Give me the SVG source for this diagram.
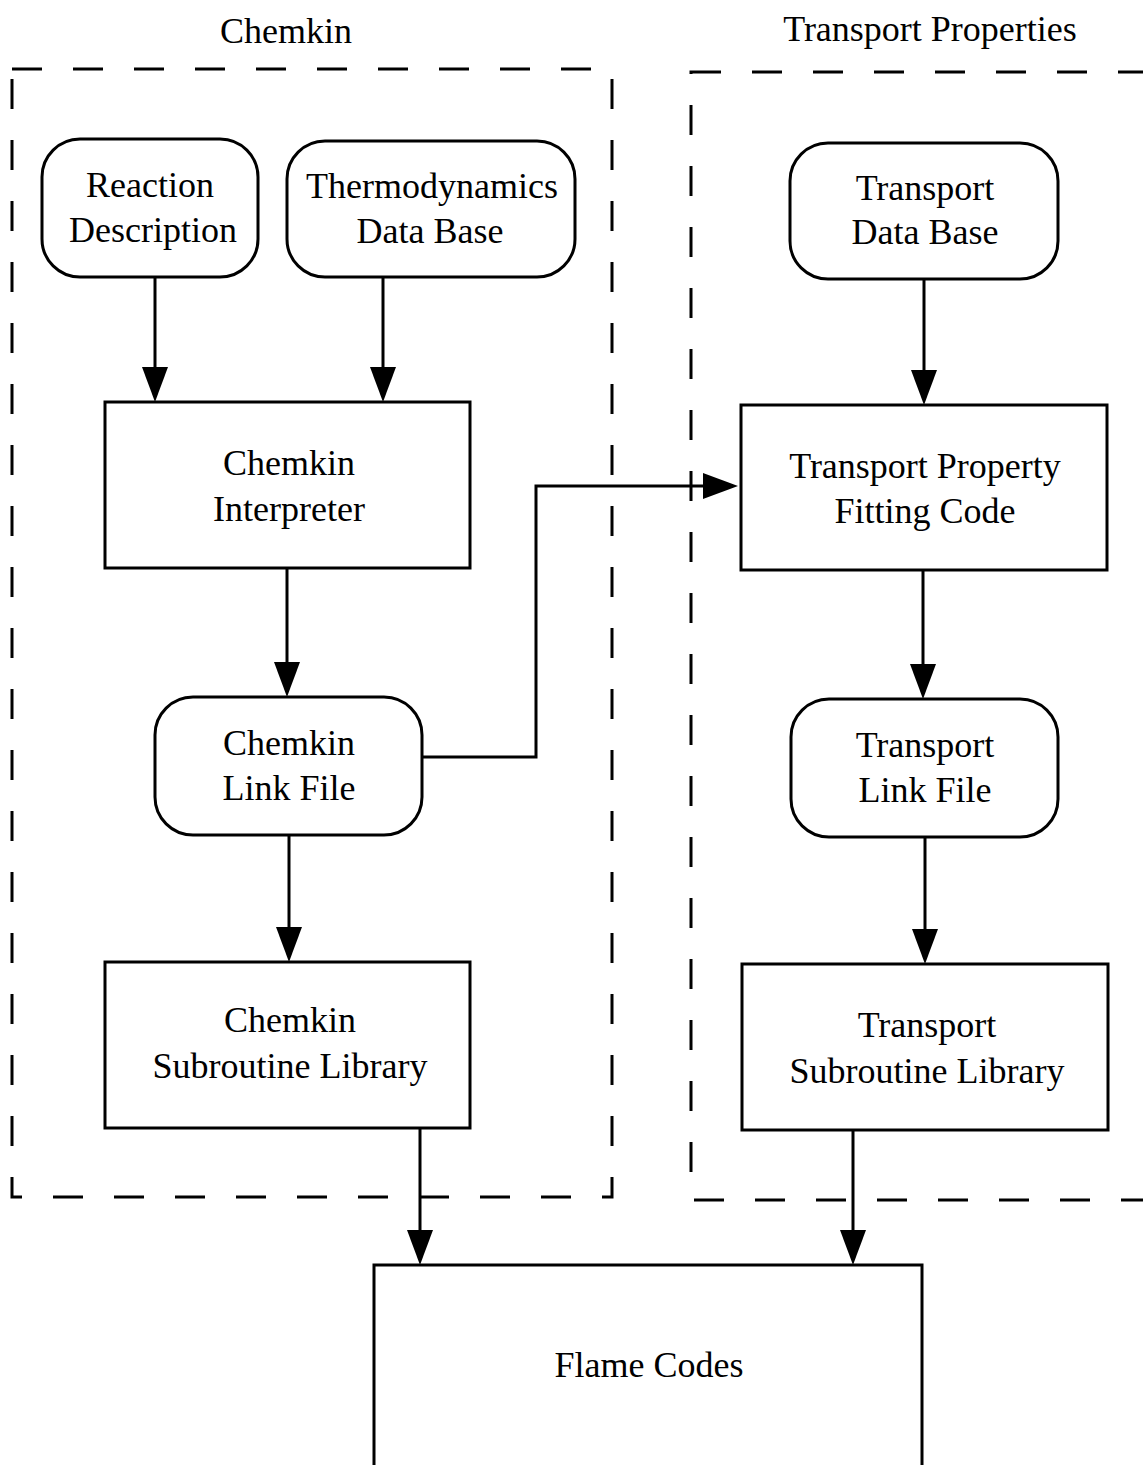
<svg xmlns="http://www.w3.org/2000/svg" width="1143" height="1465" viewBox="0 0 1143 1465">
<style>
  .box { fill: #fff; stroke: #000; stroke-width: 3; }
  .grp { fill: none; stroke: #000; stroke-width: 3; stroke-dasharray: 30 31; }
  .conn { fill: none; stroke: #000; stroke-width: 3; marker-end: url(#arr); }
  text { font-family: "Liberation Serif", "Times New Roman", serif; font-size: 36px; fill: #000; text-anchor: middle; }
</style>
<defs>
  <marker id="arr" markerUnits="userSpaceOnUse" markerWidth="36" markerHeight="26" refX="30" refY="13" orient="auto">
    <path d="M0,0 L35,13 L0,26 Z" fill="#000"/>
  </marker>
</defs>
<rect width="1143" height="1465" fill="#fff"/>

<g id="group-chemkin">
  <rect class="grp" x="12" y="69" width="600" height="1128"/>
  <text x="286" y="43">Chemkin</text>
</g>
<g id="group-transport">
  <rect class="grp" x="691" y="72" width="520" height="1128"/>
  <text x="930" y="41">Transport Properties</text>
</g>

<g id="connectors">
  <path class="conn" d="M155,277 V397"/>
  <path class="conn" d="M383,277 V397"/>
  <path class="conn" d="M924,279 V400"/>
  <path class="conn" d="M287,568 V692"/>
  <path class="conn" d="M289,835 V957"/>
  <path class="conn" d="M923,570 V694"/>
  <path class="conn" d="M925,837 V959"/>
  <path class="conn" d="M420,1128 V1260"/>
  <path class="conn" d="M853,1130 V1260"/>
  <path class="conn" d="M422,757 H536 V486 H733"/>
</g>

<g id="reaction-description">
  <rect class="box" x="42" y="139" width="216" height="138" rx="38"/>
  <text x="150" y="197">Reaction</text>
  <text x="153" y="242">Description</text>
</g>
<g id="thermodynamics-data-base">
  <rect class="box" x="287" y="141" width="288" height="136" rx="38"/>
  <text x="432" y="198">Thermodynamics</text>
  <text x="430" y="243">Data Base</text>
</g>
<g id="transport-data-base">
  <rect class="box" x="790" y="143" width="268" height="136" rx="38"/>
  <text x="925" y="200">Transport</text>
  <text x="925" y="244">Data Base</text>
</g>
<g id="chemkin-interpreter">
  <rect class="box" x="105" y="402" width="365" height="166"/>
  <text x="289" y="475">Chemkin</text>
  <text x="289" y="521">Interpreter</text>
</g>
<g id="transport-fitting-code">
  <rect class="box" x="741" y="405" width="366" height="165"/>
  <text x="925" y="478">Transport Property</text>
  <text x="925" y="523">Fitting Code</text>
</g>
<g id="chemkin-link-file">
  <rect class="box" x="155" y="697" width="267" height="138" rx="38"/>
  <text x="289" y="755">Chemkin</text>
  <text x="289" y="800">Link File</text>
</g>
<g id="transport-link-file">
  <rect class="box" x="791" y="699" width="267" height="138" rx="38"/>
  <text x="925" y="757">Transport</text>
  <text x="925" y="802">Link File</text>
</g>
<g id="chemkin-subroutine-library">
  <rect class="box" x="105" y="962" width="365" height="166"/>
  <text x="290" y="1032">Chemkin</text>
  <text x="290" y="1078">Subroutine Library</text>
</g>
<g id="transport-subroutine-library">
  <rect class="box" x="742" y="964" width="366" height="166"/>
  <text x="927" y="1037">Transport</text>
  <text x="927" y="1083">Subroutine Library</text>
</g>
<g id="flame-codes">
  <rect class="box" x="374" y="1265" width="548" height="260"/>
  <text x="649" y="1377">Flame Codes</text>
</g>
</svg>
